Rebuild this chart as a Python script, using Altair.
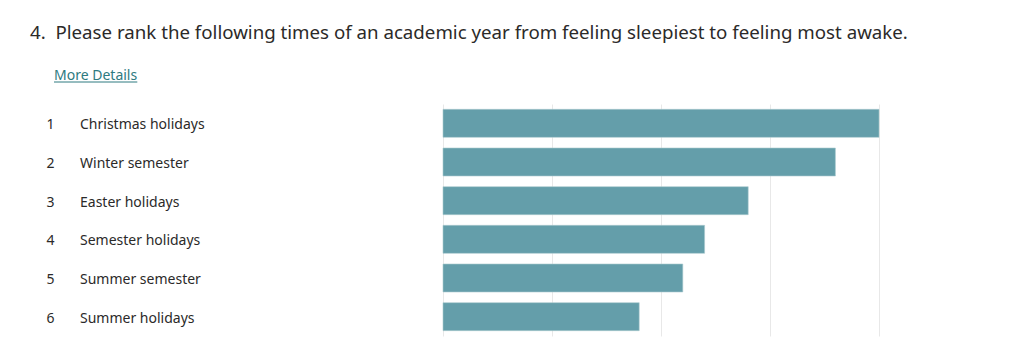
import altair as alt
import pandas as pd

ranks = [1, 2, 3, 4, 5, 6]
categories = ["Christmas holidays", "Winter semester", "Easter holidays",
              "Semester holidays", "Summer semester", "Summer holidays"]
scores = [5.0, 4.5, 3.5, 3.0, 2.75, 2.25]
grid_ticks = [0, 1.25, 2.5, 3.75, 5]
title_text = "4.\u00a0\u00a0Please rank the following times of an academic year from feeling sleepiest to feeling most awake."
link_text = "More Details"

df = pd.DataFrame({"rank": ranks, "category": categories, "score": scores})

FONT = "Noto Sans"
TEXT_COLOR = "#2b2a29"
BAR_COLOR = "#649EAA"
LINK_COLOR = "#2E7A80"

yscale = alt.Scale(domain=categories, paddingInner=0.276, paddingOuter=0.138)
y_enc = alt.Y("category:N", scale=yscale, axis=None, sort=categories)

bars = alt.Chart(df).mark_bar(color=BAR_COLOR, stroke="#a9c9cf", strokeWidth=0.6).encode(
    x=alt.X("score:Q", scale=alt.Scale(domain=[0, 5], nice=False),
            axis=alt.Axis(values=grid_ticks, grid=True, gridColor="#e8e8e8", gridWidth=1,
                          labels=False, ticks=False, domain=False, title=None)),
    y=y_enc,
)

rank_text = alt.Chart(df).mark_text(align="center", baseline="middle", font=FONT,
                                    fontSize=14, color=TEXT_COLOR, dy=2).encode(
    y=y_enc, x=alt.value(-392.5), text="rank:N")

label_text = alt.Chart(df).mark_text(align="left", baseline="middle", font=FONT,
                                     fontSize=14, color=TEXT_COLOR, dy=2).encode(
    y=y_enc, x=alt.value(-363), text="category:N")

tdf = pd.DataFrame({"t": [title_text]})
title = alt.Chart(tdf).mark_text(align="left", baseline="alphabetic", font=FONT,
                                 fontSize=18.7, color=TEXT_COLOR).encode(
    x=alt.value(-413), y=alt.value(-64.7), text="t:N")

ldf = pd.DataFrame({"t": [link_text]})
link = alt.Chart(ldf).mark_text(align="left", baseline="alphabetic", font=FONT,
                                fontSize=14, color=LINK_COLOR).encode(
    x=alt.value(-389), y=alt.value(-24), text="t:N")
underline = alt.Chart(ldf).mark_rule(color=LINK_COLOR, strokeWidth=1).encode(
    x=alt.value(-389), x2=alt.value(-305.7), y=alt.value(-22))

chart = alt.layer(bars, rank_text, label_text, title, link, underline).properties(
    width=436, height=232,
    padding={"left": 435, "top": 96, "right": 120, "bottom": 10},
    autosize=alt.AutoSizeParams(type="none"),
    background="white",
).configure_view(strokeWidth=0)

chart.save("out.html", embed_options={"renderer": "svg", "actions": False})
